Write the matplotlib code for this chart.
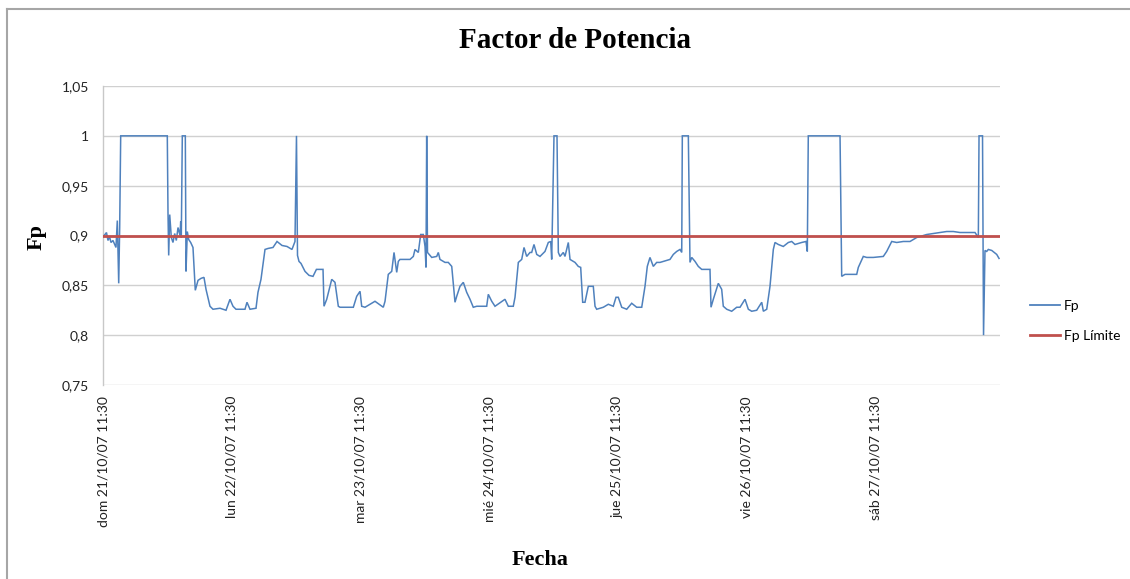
import matplotlib
matplotlib.use("Agg")
import matplotlib.pyplot as plt
from matplotlib.lines import Line2D
from matplotlib.ticker import FixedLocator, FuncFormatter

# Power factor readings: hours elapsed since dom 21/10/07 11:30
horas = [
    0.00, 0.37, 0.65, 0.93, 1.21, 1.49, 1.86, 2.42, 2.67, 2.93, 3.11, 3.30,
    11.99, 12.12, 12.25, 12.44, 12.74, 13.05, 13.37, 13.67, 13.99, 14.36, 14.49, 14.60,
    14.79, 15.35, 15.48, 15.72, 15.98, 16.35, 16.78, 17.21, 17.72, 18.28, 18.83, 19.21,
    19.95, 20.51, 21.82, 22.94, 23.68, 24.24, 24.80, 26.48, 26.85, 27.41, 28.53, 28.90,
    29.46, 30.21, 30.77, 31.70, 32.45, 33.38, 34.31, 35.24, 35.80, 36.08, 36.27, 36.55,
    36.92, 37.67, 38.42, 39.16, 39.80, 41.03, 41.21, 41.72, 42.65, 43.26, 43.88, 44.20,
    46.68, 47.31, 47.93, 48.24, 48.86, 50.72, 52.27, 52.59, 53.20, 53.84, 54.27, 54.77,
    55.07, 55.38, 57.25, 57.87, 58.18, 58.80, 59.24, 59.73, 60.05, 60.23, 60.36, 60.51,
    61.30, 62.23, 62.53, 62.84, 63.78, 64.39, 65.03, 65.64, 65.96, 66.57, 67.19, 67.82,
    68.44, 69.05, 69.69, 71.55, 71.85, 72.49, 73.10, 74.96, 75.58, 76.51, 76.83, 77.45,
    78.08, 78.51, 79.01, 79.63, 79.94, 80.37, 80.88, 81.49, 82.42, 83.04, 83.49, 83.67,
    84.10, 84.66, 84.91, 85.22, 85.84, 86.15, 86.77, 87.09, 88.02, 88.63, 89.08, 89.45,
    89.88, 90.50, 91.43, 91.75, 92.06, 93.30, 94.23, 95.16, 95.66, 96.09, 96.73, 97.66,
    98.59, 99.52, 100.46, 101.07, 101.50, 102.00, 102.62, 103.25, 103.87, 104.49, 105.73, 106.35,
    106.98, 107.60, 107.92, 108.03, 109.15, 109.46, 109.78, 110.40, 111.01, 111.65, 113.19, 113.38,
    113.81, 114.74, 115.37, 115.67, 116.31, 117.24, 118.17, 118.79, 119.72, 120.34, 120.97, 121.90,
    122.84, 123.14, 123.77, 124.38, 125.00, 125.31, 125.93, 126.86, 127.80, 128.43, 129.04, 130.29,
    131.10, 131.34, 131.52, 137.44, 137.75, 138.37, 140.55, 140.85, 141.78, 142.41, 143.65, 145.51,
    146.14, 147.08, 148.01, 149.24, 150.49, 151.74, 152.35, 153.60, 154.84, 156.08, 157.33, 158.57,
    159.81, 161.06, 162.61, 163.23, 163.36, 164.01, 164.20, 164.47, 164.79, 165.09, 165.73, 166.66,
    167.09,
]
fp = [
    0.899, 0.901, 0.903, 0.895, 0.899, 0.893, 0.895, 0.888, 0.915, 0.852, 0.908, 1.000,
    1.000, 0.923, 0.880, 0.921, 0.898, 0.893, 0.902, 0.895, 0.908, 0.900, 0.914, 0.898,
    1.000, 1.000, 0.864, 0.904, 0.896, 0.893, 0.888, 0.845, 0.855, 0.857, 0.858, 0.846,
    0.829, 0.826, 0.827, 0.825, 0.836, 0.829, 0.826, 0.826, 0.833, 0.826, 0.827, 0.843,
    0.856, 0.886, 0.887, 0.888, 0.894, 0.890, 0.889, 0.886, 0.894, 1.000, 0.880, 0.874,
    0.872, 0.864, 0.860, 0.859, 0.866, 0.866, 0.829, 0.836, 0.856, 0.853, 0.829, 0.828,
    0.828, 0.839, 0.844, 0.829, 0.828, 0.834, 0.828, 0.834, 0.861, 0.864, 0.883, 0.863,
    0.874, 0.876, 0.876, 0.879, 0.886, 0.883, 0.901, 0.901, 0.889, 0.868, 1.000, 0.883,
    0.878, 0.879, 0.883, 0.876, 0.873, 0.873, 0.869, 0.833, 0.839, 0.849, 0.853, 0.843,
    0.836, 0.828, 0.829, 0.829, 0.841, 0.834, 0.829, 0.836, 0.829, 0.829, 0.838, 0.873,
    0.876, 0.888, 0.879, 0.883, 0.883, 0.891, 0.881, 0.879, 0.884, 0.893, 0.894, 0.876,
    1.000, 1.000, 0.883, 0.879, 0.883, 0.879, 0.893, 0.876, 0.873, 0.869, 0.868, 0.833,
    0.833, 0.849, 0.849, 0.829, 0.826, 0.828, 0.831, 0.829, 0.838, 0.838, 0.828, 0.826,
    0.832, 0.828, 0.828, 0.849, 0.869, 0.878, 0.869, 0.873, 0.873, 0.874, 0.876, 0.881,
    0.884, 0.886, 0.883, 1.000, 1.000, 0.873, 0.878, 0.874, 0.869, 0.866, 0.866, 0.828,
    0.836, 0.852, 0.846, 0.829, 0.826, 0.824, 0.828, 0.828, 0.836, 0.826, 0.824, 0.825,
    0.833, 0.824, 0.826, 0.849, 0.886, 0.893, 0.891, 0.889, 0.893, 0.894, 0.891, 0.893,
    0.894, 0.884, 1.000, 1.000, 0.859, 0.861, 0.861, 0.868, 0.879, 0.878, 0.878, 0.879,
    0.884, 0.894, 0.893, 0.894, 0.894, 0.898, 0.899, 0.901, 0.902, 0.903, 0.904, 0.904,
    0.903, 0.903, 0.903, 0.898, 1.000, 1.000, 0.800, 0.885, 0.884, 0.886, 0.885, 0.881,
    0.877,
]

fp_limite = 0.9
fin_horas = 167.27

dias_horas = [0, 24, 48, 72, 96, 120, 144]
dias_etiquetas = [
    "dom 21/10/07 11:30",
    "lun 22/10/07 11:30",
    "mar 23/10/07 11:30",
    "mié 24/10/07 11:30",
    "jue 25/10/07 11:30",
    "vie 26/10/07 11:30",
    "sáb 27/10/07 11:30",
]
y_ticks = [0.75, 0.80, 0.85, 0.90, 0.95, 1.00, 1.05]

azul = "#4F81BD"
rojo = "#C0504D"
sans = ["Lato", "DejaVu Sans"]
serif = ["Liberation Serif", "DejaVu Serif"]

fig = plt.figure(figsize=(11.3, 5.79), dpi=100)
ax = fig.add_axes([103 / 1130, 1 - 385 / 579, 897 / 1130, 299 / 579])

ax.plot(horas, fp, color=azul, lw=1.1, solid_joinstyle="miter", zorder=3)
ax.plot([0, fin_horas], [fp_limite, fp_limite], color=rojo, lw=2.0, zorder=4)

ax.set_xlim(0, fin_horas)
ax.set_ylim(0.75, 1.05)
ax.yaxis.set_major_locator(FixedLocator(y_ticks))
ax.yaxis.set_major_formatter(
    FuncFormatter(lambda v, _: ("%g" % round(v, 2)).replace(".", ","))
)
ax.set_xticks(dias_horas)
ax.set_xticklabels(dias_etiquetas, rotation=90, ha="center", va="top",
                   family=sans, fontsize=10, color="#222222")
for lab in ax.get_yticklabels():
    lab.set_family(sans)
    lab.set_fontsize(10)
    lab.set_color("#222222")
ax.tick_params(axis="both", length=0)
ax.tick_params(axis="x", pad=8)
ax.tick_params(axis="y", pad=10)

ax.grid(axis="y", color="#d0d0d0", lw=1.0, zorder=0)
for side in ("top", "right", "bottom"):
    ax.spines[side].set_visible(False)
ax.spines["left"].set_color("#c8c8c8")
ax.spines["left"].set_linewidth(1.0)

fig.text(575 / 1130, 1 - 40 / 579, "Factor de Potencia", family=serif,
         fontweight="bold", fontsize=21, ha="center", va="center")
fig.text(37 / 1130, 1 - 237 / 579, "Fp", family=serif, fontweight="bold",
         fontsize=16, rotation=90, ha="center", va="center")
fig.text(540 / 1130, 1 - 560 / 579, "Fecha", family=serif, fontweight="bold",
         fontsize=16, ha="center", va="center")

leyenda = [Line2D([], [], color=azul, lw=1.3), Line2D([], [], color=rojo, lw=2.0)]
fig.legend(leyenda, ["Fp", "Fp Límite"], loc="center left",
           bbox_to_anchor=(1017 / 1130, 1 - 321 / 579), frameon=False,
           prop={"family": sans, "size": 10}, handlelength=2.2,
           handletextpad=0.3, labelspacing=1.3)

# Outer frame of the chart area (top and left edges)
fig.add_artist(Line2D([7 / 1130, 1.0], [1 - 9 / 579, 1 - 9 / 579],
                      transform=fig.transFigure, color="#a6a6a6", lw=1.5))
fig.add_artist(Line2D([7 / 1130, 7 / 1130], [0.0, 1 - 9 / 579],
                      transform=fig.transFigure, color="#a6a6a6", lw=1.5))

fig.savefig("out.png", dpi=100, facecolor="white")
